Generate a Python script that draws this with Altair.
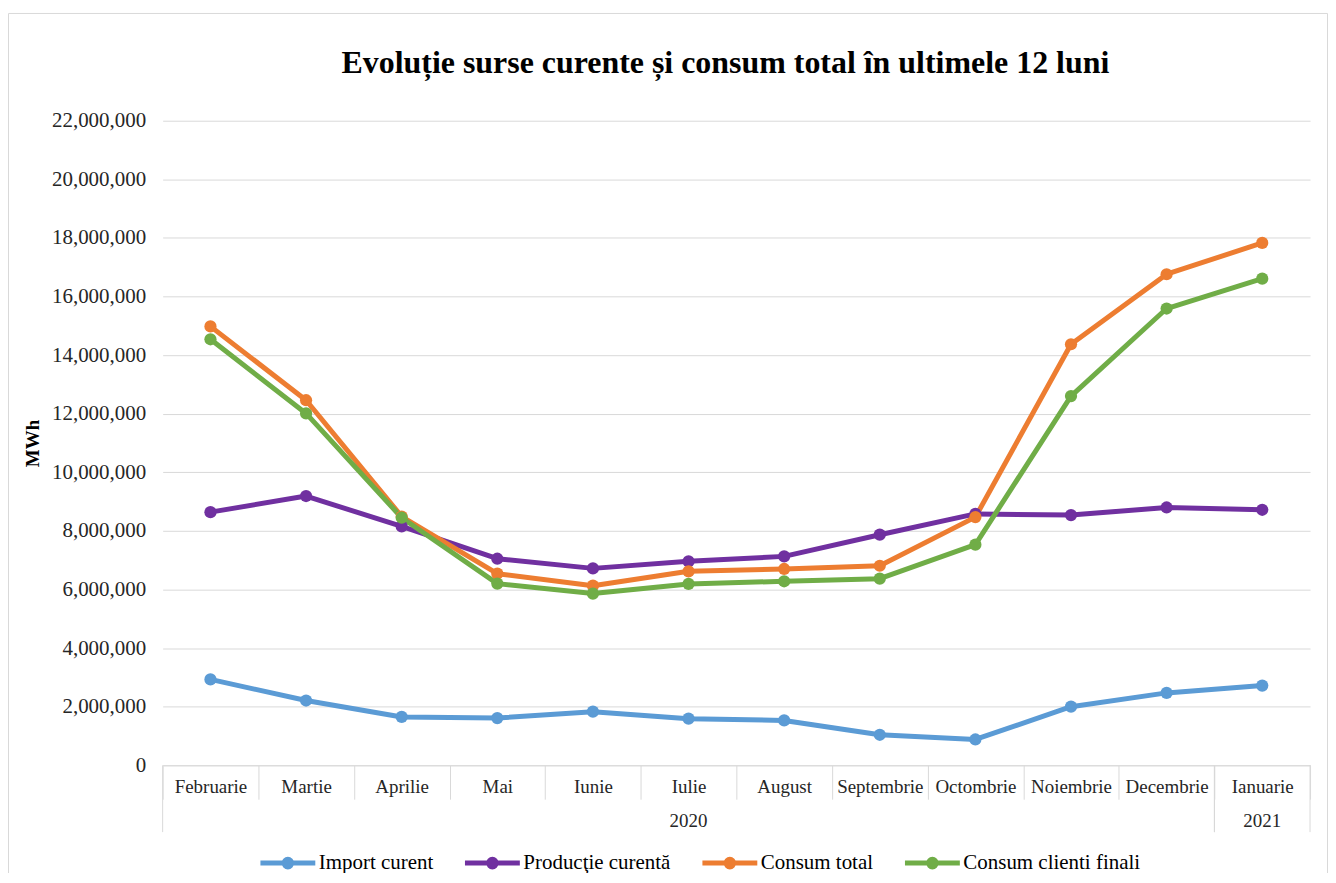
import altair as alt
import pandas as pd

months = ["Februarie", "Martie", "Aprilie", "Mai", "Iunie", "Iulie", "August",
          "Septembrie", "Octombrie", "Noiembrie", "Decembrie", "Ianuarie"]
series_names = ["Import curent", "Producţie curentă", "Consum total", "Consum clienti finali"]
import_curent = [2930000, 2210000, 1650000, 1610000, 1830000, 1590000, 1530000,
                 1040000, 880000, 2000000, 2470000, 2720000]
productie_curenta = [8640000, 9190000, 8150000, 7050000, 6720000, 6960000, 7130000,
                     7870000, 8580000, 8540000, 8800000, 8720000]
consum_total = [14980000, 12460000, 8490000, 6540000, 6130000, 6620000, 6700000,
                6810000, 8470000, 14370000, 16760000, 17830000]
consum_clienti = [14540000, 12010000, 8450000, 6200000, 5860000, 6190000, 6280000,
                  6370000, 7530000, 12600000, 15590000, 16610000]
colors = ["#5B9BD5", "#7030A0", "#ED7D31", "#70AD47"]
years = ["2020", "2021"]
year_first_month = ["Februarie", "Ianuarie"]
year_last_month = ["Decembrie", "Ianuarie"]
year_mid_month = ["Iulie", "Ianuarie"]
y_ticks = list(range(0, 22000001, 2000000))
chart_title = "Evoluție surse curente și consum total în ultimele 12 luni"

FONT = "Liberation Serif"
GRID = "#d9d9d9"
TXT = "#262626"
W, H = 1150, 646

rows = []
for name, vals in zip(series_names, [import_curent, productie_curenta, consum_total, consum_clienti]):
    for m, v in zip(months, vals):
        rows.append({"Luna": m, "Serie": name, "MWh": v})
df = pd.DataFrame(rows)
start_df = pd.DataFrame({"Luna": year_first_month, "an": years})
end_df = pd.DataFrame({"Luna": year_last_month, "an": years})
mid_df = pd.DataFrame({"Luna": year_mid_month, "an": years})

xscale = alt.Scale(type="band", domain=months, paddingInner=0, paddingOuter=0)
yscale = alt.Scale(domain=[0, 22000000], nice=False)
cscale = alt.Scale(domain=series_names, range=colors)

xaxis = alt.Axis(title=None)
yaxis = alt.Axis(values=y_ticks, format=",.0f", title="MWh")

# legend symbol: a line with a dot (stroked path)
legend_path = ("M-1,0H1 "
               "M0.14,0A0.14,0.14,0,1,1,-0.14,0A0.14,0.14,0,1,1,0.14,0 "
               "M0.055,0A0.055,0.055,0,1,1,-0.055,0A0.055,0.055,0,1,1,0.055,0")
legend = alt.Legend(
    title=None, orient="none", legendX=95.5, legendY=714,
    direction="horizontal", symbolType=legend_path,
    symbolSize=3025, symbolStrokeWidth=5, symbolOpacity=1,
    labelFont=FONT, labelFontSize=21, labelColor="#000000",
    labelOffset=1, columnPadding=21, padding=0, labelLimit=400,
)

def X(bp=0.5):
    return alt.X("Luna:N", sort=months, scale=xscale, axis=xaxis, bandPosition=bp)

Y = alt.Y("MWh:Q", scale=yscale, axis=yaxis)
C = alt.Color("Serie:N", scale=cscale, sort=series_names, legend=legend)

frame = alt.Chart(pd.DataFrame({"k": [0]})).mark_rect(
    fill="white", fillOpacity=0, stroke=GRID, strokeWidth=1
).encode(x=alt.value(-154.5), x2=alt.value(1167.5), y=alt.value(-107.5), y2=alt.value(760))

base = alt.Chart(df)
lines = base.mark_line(strokeWidth=5, strokeJoin="round", strokeCap="round").encode(
    x=X(), y=Y, color=C)
points = base.mark_circle(size=150, opacity=1).encode(x=X(), y=Y, color=C)

sep_start = alt.Chart(start_df).mark_rule(color=GRID, strokeWidth=1).encode(
    x=X(0), y=alt.value(H), y2=alt.value(H + 67))
sep_end = alt.Chart(end_df).mark_rule(color=GRID, strokeWidth=1).encode(
    x=X(1), y=alt.value(H), y2=alt.value(H + 67))
year_text = alt.Chart(mid_df).mark_text(font=FONT, fontSize=19, color=TXT, baseline="middle").encode(
    x=X(), y=alt.value(H + 56), text="an:N")
title_text = alt.Chart(pd.DataFrame({"t": [chart_title]})).mark_text(
    font=FONT, fontSize=32, fontWeight="bold", color="#000000",
    align="center", baseline="alphabetic"
).encode(x=alt.value(564), y=alt.value(-48), text="t:N")

chart = alt.layer(frame, lines, points, sep_start, sep_end, year_text, title_text).properties(
    width=W, height=H,
    autosize=alt.AutoSizeParams(type="none"),
    padding={"left": 155, "top": 112, "right": 18, "bottom": 107},
).configure(
    numberFormat=",.0f",
    font=FONT,
).configure_view(
    strokeWidth=0
).configure_legend(
    labelFont=FONT, labelFontSize=21, labelColor="#000000",
).configure_axisX(
    tickBand="extent", tickSize=34, tickColor=GRID, tickWidth=1,
    domainColor=GRID, domainWidth=1, labelAngle=0,
    labelFont=FONT, labelFontSize=19, labelColor=TXT,
    labelBaseline="middle", labelPadding=-13, grid=False,
).configure_axisY(
    grid=True, gridColor=GRID, domain=False, ticks=False, tickSize=0,
    labelPadding=17, labelFont=FONT, labelFontSize=21, labelColor=TXT,
    titleFont=FONT, titleFontSize=19, titleFontWeight="bold", titleColor="#000000",
    titleX=-130, titleY=323, titleBaseline="middle", titleAlign="center",
)

chart.save("out.html", embed_options={"renderer": "svg", "actions": False})
